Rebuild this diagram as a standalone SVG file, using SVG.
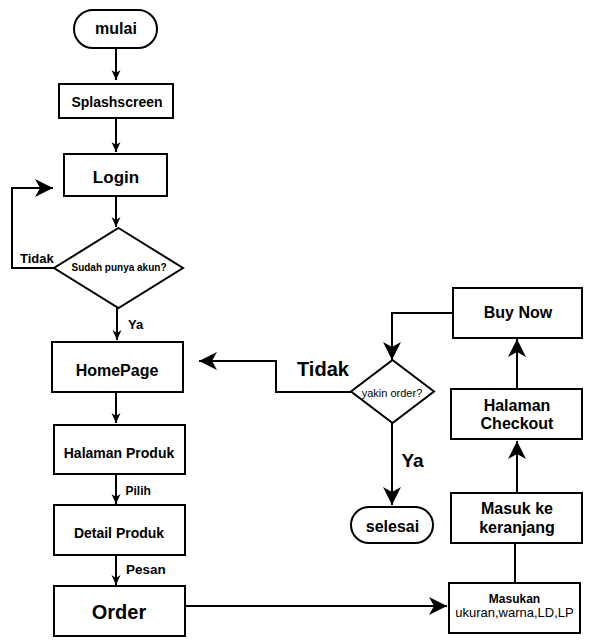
<svg xmlns="http://www.w3.org/2000/svg" width="593" height="643" viewBox="0 0 593 643">
<defs>
<style>
.box{fill:#fff;stroke:#000;stroke-width:2}
.ln{fill:none;stroke:#000;stroke-width:2}
.t{font-family:"Liberation Sans",Arial,sans-serif;font-weight:bold;fill:#000;text-anchor:middle}
.l{font-family:"Liberation Sans",Arial,sans-serif;font-weight:bold;fill:#000}
</style>
<marker id="s" viewBox="0 0 10 10" markerWidth="10" markerHeight="10" markerUnits="userSpaceOnUse" refX="10" refY="5" orient="auto">
<path d="M0,0.5 L10,5 L0,9.5 L3,5 z" fill="#000"/>
</marker>
<marker id="b" viewBox="0 0 18 18" markerWidth="18" markerHeight="18" markerUnits="userSpaceOnUse" refX="18" refY="9" orient="auto">
<path d="M0,0 L18,9 L0,18 L5,9 z" fill="#000"/>
</marker>
</defs>
<rect width="593" height="643" fill="#fff"/>
<g id="connectors">
<path class="ln" d="M116,48 V80" marker-end="url(#s)"/>
<path class="ln" d="M116,118 V152" marker-end="url(#s)"/>
<path class="ln" d="M116,196 V227" marker-end="url(#s)"/>
<path class="ln" d="M54,268 H12 V188 H53" marker-end="url(#b)"/>
<path class="ln" d="M117,308 V340" marker-end="url(#s)"/>
<path class="ln" d="M116,392 V423" marker-end="url(#s)"/>
<path class="ln" d="M116,474 V504" marker-end="url(#s)"/>
<path class="ln" d="M116,555 V585" marker-end="url(#s)"/>
<path class="ln" d="M185,606 H447" marker-end="url(#b)"/>
<path class="ln" d="M515,583 V543"/>
<path class="ln" d="M517,493 V441" marker-end="url(#b)"/>
<path class="ln" d="M517,389 V339" marker-end="url(#b)"/>
<path class="ln" d="M453,313 H392 V360" marker-end="url(#b)"/>
<path class="ln" d="M351,392 H276 V361 H199" marker-end="url(#b)"/>
<path class="ln" d="M392,423 V505" marker-end="url(#b)"/>
</g>
<g id="mulai"><rect class="box" x="74" y="10" width="83" height="38" rx="19"/><text class="t" x="116" y="34" font-size="16">mulai</text></g>
<g id="splashscreen"><rect class="box" x="59" y="84" width="114" height="34"/><text class="t" x="117" y="107" font-size="14">Splashscreen</text></g>
<g id="login"><rect class="box" x="64" y="154" width="103" height="42"/><text class="t" x="116" y="183" font-size="17">Login</text></g>
<g id="sudah"><polygon class="box" points="118.5,228 183,268 118.5,308 54,268"/><text class="t" x="119" y="271" font-size="10">Sudah punya akun?</text></g>
<g id="homepage"><rect class="box" x="52" y="342" width="131" height="50"/><text class="t" x="117" y="376" font-size="16">HomePage</text></g>
<g id="halaman-produk"><rect class="box" x="54" y="425" width="131" height="49"/><text class="t" x="119" y="458" font-size="14">Halaman Produk</text></g>
<g id="detail-produk"><rect class="box" x="54" y="505" width="131" height="50"/><text class="t" x="119" y="538" font-size="14">Detail Produk</text></g>
<g id="order"><rect class="box" x="54" y="586" width="131" height="50"/><text class="t" x="119" y="619" font-size="20">Order</text></g>
<g id="masukan"><rect class="box" x="449" y="583" width="131" height="50"/><text class="t" x="514.5" y="603" font-size="12">Masukan</text><text class="t" x="514.5" y="617" font-size="13" font-weight="normal" style="font-weight:normal">ukuran,warna,LD,LP</text></g>
<g id="keranjang"><rect class="box" x="451" y="493" width="131" height="50"/><text class="t" x="517" y="514" font-size="16">Masuk ke</text><text class="t" x="517" y="533" font-size="16">keranjang</text></g>
<g id="checkout"><rect class="box" x="451" y="389" width="131" height="50"/><text class="t" x="517" y="411" font-size="16">Halaman</text><text class="t" x="517" y="429" font-size="16">Checkout</text></g>
<g id="buynow"><rect class="box" x="453" y="288" width="129" height="50"/><text class="t" x="518" y="318" font-size="16">Buy Now</text></g>
<g id="yakin"><polygon class="box" points="392.5,360 434,391.5 392.5,423 351,391.5"/><text class="t" x="392" y="397" font-size="11" style="font-weight:normal">yakin order?</text></g>
<g id="selesai"><rect class="box" x="351" y="507" width="82" height="36" rx="18"/><text class="t" x="392.5" y="532" font-size="16">selesai</text></g>
<g id="labels">
<text class="l" x="20" y="263" font-size="13">Tidak</text>
<text class="l" x="128" y="329" font-size="13">Ya</text>
<text class="l" x="125.5" y="495" font-size="12">Pilih</text>
<text class="l" x="126" y="574" font-size="13.5">Pesan</text>
<text class="l" x="297" y="376" font-size="20">Tidak</text>
<text class="l" x="401.5" y="467" font-size="19">Ya</text>
</g>
</svg>
